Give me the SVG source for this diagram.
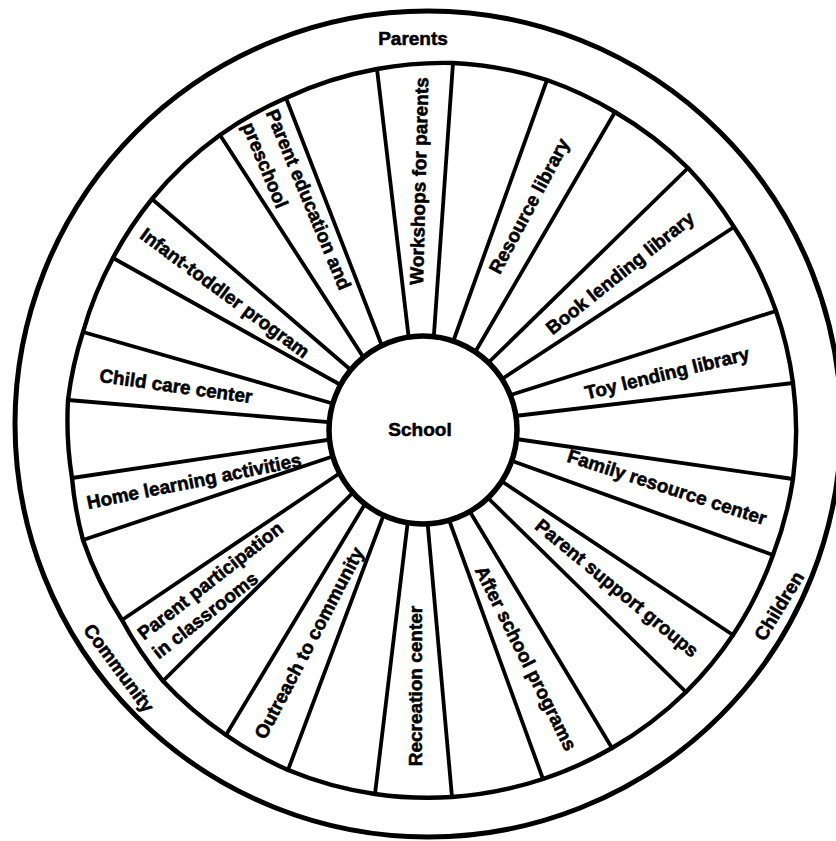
<svg xmlns="http://www.w3.org/2000/svg" width="836" height="841" viewBox="0 0 836 841">
<style>
.ln{stroke:#000;fill:none;stroke-linecap:round;stroke-linejoin:round}
.sp{stroke:#000;stroke-width:3.8;stroke-linecap:round}
.t{font-family:"Liberation Sans",Arial,sans-serif;font-weight:bold;font-size:19px;fill:#000;stroke:#000;stroke-width:0.55;text-anchor:middle}
.l{text-anchor:start}
</style>
<rect width="836" height="841" fill="#fff"/>
<g id="connectors">
<line class="sp" x1="377" y1="69" x2="409" y2="340"/>
<line class="sp" x1="453" y1="63" x2="433.5" y2="341"/>
<line class="sp" x1="547" y1="80" x2="453" y2="342"/>
<line class="sp" x1="615" y1="112" x2="474.6" y2="353"/>
<line class="sp" x1="688" y1="168" x2="488" y2="363"/>
<line class="sp" x1="734" y1="227" x2="502" y2="379"/>
<line class="sp" x1="776" y1="311" x2="510.5" y2="395"/>
<line class="sp" x1="793" y1="383" x2="515" y2="416"/>
<line class="sp" x1="793" y1="479" x2="516" y2="439"/>
<line class="sp" x1="773" y1="555" x2="511.6" y2="460.7"/>
<line class="sp" x1="733" y1="635" x2="501.3" y2="481"/>
<line class="sp" x1="686" y1="692" x2="487" y2="497"/>
<line class="sp" x1="612" y1="748" x2="469.5" y2="511"/>
<line class="sp" x1="543" y1="779" x2="448" y2="517"/>
<line class="sp" x1="452" y1="797" x2="427.4" y2="521"/>
<line class="sp" x1="375" y1="794" x2="408" y2="520"/>
<line class="sp" x1="288" y1="770" x2="384" y2="514"/>
<line class="sp" x1="226" y1="735" x2="365" y2="504"/>
<line class="sp" x1="163" y1="681" x2="352.6" y2="493"/>
<line class="sp" x1="122" y1="620" x2="340" y2="473"/>
<line class="sp" x1="83" y1="540" x2="334" y2="456"/>
<line class="sp" x1="72" y1="478" x2="334" y2="439"/>
<line class="sp" x1="68" y1="400" x2="334.5" y2="422.6"/>
<line class="sp" x1="83" y1="332" x2="338" y2="405"/>
<line class="sp" x1="113" y1="258" x2="342.6" y2="386"/>
<line class="sp" x1="152" y1="199" x2="352" y2="371"/>
<line class="sp" x1="220" y1="135" x2="363.5" y2="357.4"/>
<line class="sp" x1="286" y1="98" x2="382.4" y2="347"/>
</g>
<g id="rings">
<circle class="ln" cx="428" cy="424" r="413" stroke-width="5"/>
<path class="ln" stroke-width="4.4" d="M377,69 A366,366 0 0 1 453,63 A366,366 0 0 1 547,80 A366,366 0 0 1 615,112 A366,366 0 0 1 688,168 A366,366 0 0 1 734,227 A366,366 0 0 1 776,311 A366,366 0 0 1 793,383 A366,366 0 0 1 793,479 A366,366 0 0 1 773,555 A366,366 0 0 1 733,635 A366,366 0 0 1 686,692 A366,366 0 0 1 612,748 A366,366 0 0 1 543,779 A366,366 0 0 1 452,797 A366,366 0 0 1 375,794 A366,366 0 0 1 288,770 A366,366 0 0 1 226,735 A366,366 0 0 1 163,681 A366,366 0 0 1 122,620 A366,366 0 0 1 83,540 A366,366 0 0 1 72,478 A366,366 0 0 1 68,400 A366,366 0 0 1 83,332 A366,366 0 0 1 113,258 A366,366 0 0 1 152,199 A366,366 0 0 1 220,135 A366,366 0 0 1 286,98 A366,366 0 0 1 377,69 Z"/>
</g>
<g id="node-school">
<circle cx="423" cy="430" r="94" fill="#fff" stroke="#000" stroke-width="5.5"/>
<text class="t" x="420" y="429" dy="0.35em">School</text>
</g>
<g id="node-parents"><text class="t" x="413" y="38.5" dy="0.35em">Parents</text></g>
<g id="node-children"><text class="t" transform="translate(779,606) rotate(-58.5)" dy="0.35em">Children</text></g>
<g id="node-community"><text class="t" transform="translate(119,668) rotate(53.5)" dy="0.35em">Community</text></g>
<g id="node-workshops"><text class="t" transform="translate(419,181) rotate(-88.5)" dy="0.35em">Workshops for parents</text></g>
<g id="node-resource-library"><text class="t" transform="translate(529,206) rotate(-62)" dy="0.35em">Resource library</text></g>
<g id="node-book-lending"><text class="t" transform="translate(620,273) rotate(-38.7)" dy="0.35em">Book lending library</text></g>
<g id="node-toy-lending"><text class="t" transform="translate(667,373) rotate(-13.8)" dy="0.35em">Toy lending library</text></g>
<g id="node-family-resource"><text class="t" transform="translate(667,487) rotate(17.8)" dy="0.35em">Family resource center</text></g>
<g id="node-parent-support"><text class="t" transform="translate(617,588) rotate(39.5)" dy="0.35em">Parent support groups</text></g>
<g id="node-after-school"><text class="t" transform="translate(526,658) rotate(63.4)" dy="0.35em">After school programs</text></g>
<g id="node-recreation"><text class="t" transform="translate(415,686) rotate(-90)" dy="0.35em">Recreation center</text></g>
<g id="node-outreach"><text class="t" transform="translate(309,643) rotate(-62.3)" dy="0.35em">Outreach to community</text></g>
<g id="node-parent-participation" transform="translate(219,589) rotate(-38)">
<text class="t l" x="-91" y="-12" dy="0.35em">Parent participation</text>
<text class="t l" x="-91" y="12" dy="0.35em">in classrooms</text>
</g>
<g id="node-home-learning"><text class="t" transform="translate(194,481) rotate(-11.4)" dy="0.35em">Home learning activities</text></g>
<g id="node-child-care"><text class="t" transform="translate(176,386) rotate(8)" dy="0.35em">Child care center</text></g>
<g id="node-infant-toddler"><text class="t" transform="translate(225,293) rotate(36.4)" dy="0.35em">Infant-toddler program</text></g>
<g id="node-parent-education" transform="translate(296,204) rotate(67.5)">
<text class="t l" x="-96" y="-13.5" dy="0.35em">Parent education and</text>
<text class="t l" x="-93" y="13.5" dy="0.35em">preschool</text>
</g>
</svg>
